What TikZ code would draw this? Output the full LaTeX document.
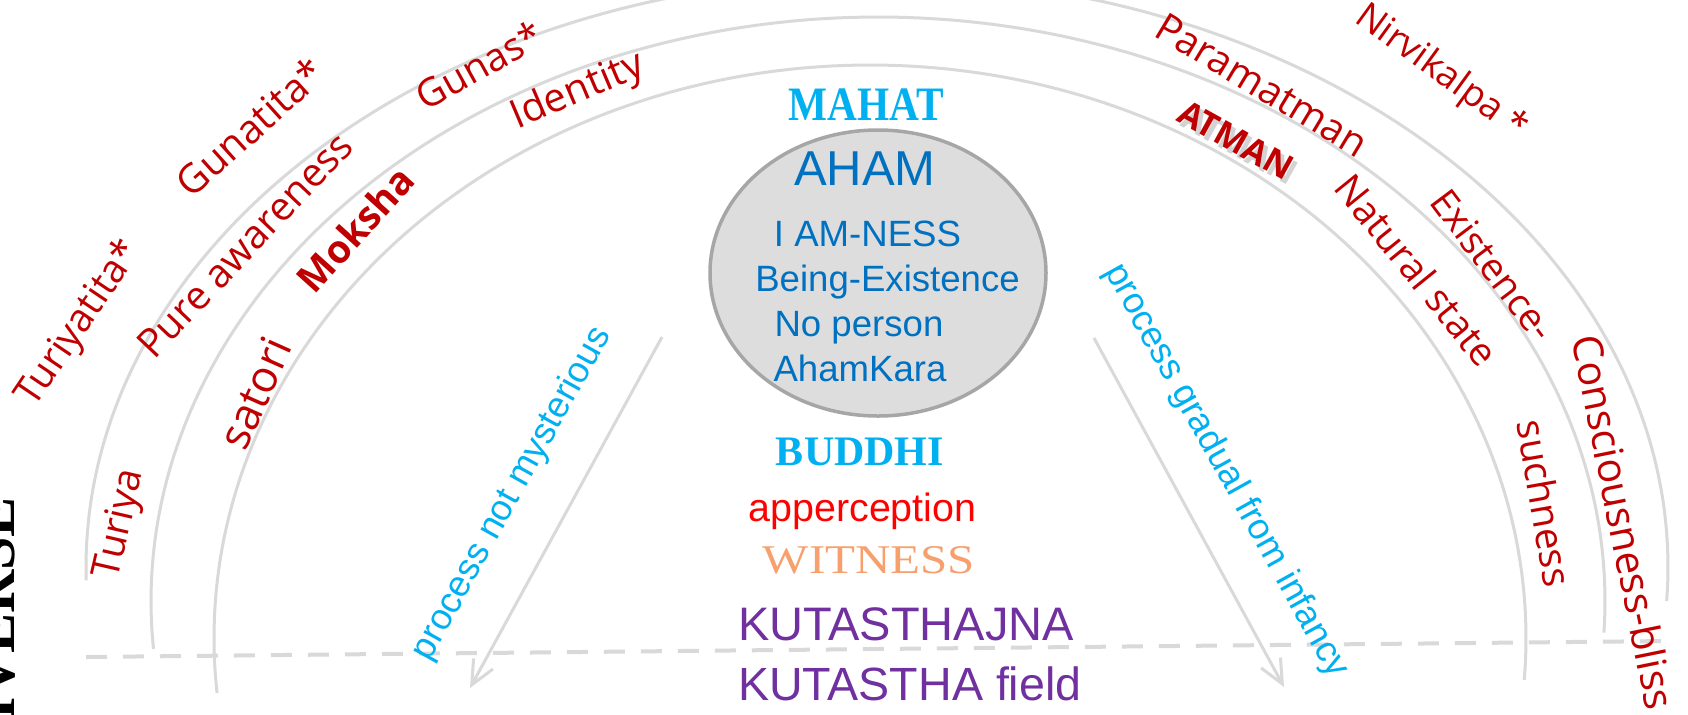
\documentclass[tikz,border=0pt]{standalone}
\usepackage{fontspec}
\usetikzlibrary{shapes.geometric,arrows.meta}
\newfontfamily\osans{Open Sans}
\newfontfamily\lsans{Liberation Sans}
\newfontfamily\lserif{Liberation Serif}
\newcommand\fsz[1]{\fontsize{#1}{#1}\selectfont}
\definecolor{dred}{HTML}{C00000}
\definecolor{cyanb}{HTML}{00B0F0}
\definecolor{blueb}{HTML}{0070C0}
\definecolor{purp}{HTML}{7030A0}
\definecolor{lgray}{HTML}{D9D9D9}
\definecolor{egray}{HTML}{A6A6A6}
\definecolor{efill}{HTML}{DDDDDD}
\definecolor{witn}{RGB}{247,160,110}
\definecolor{rred}{HTML}{FF0000}
\definecolor{shad}{HTML}{C8C8C8}
\begin{document}
\begin{tikzpicture}[x=0.5pt,y=-0.5pt,
  arcl/.style={draw=lgray, line width=1.5pt},
  lab/.style={inner sep=0pt, outer sep=0pt},
  rlab/.style={lab, text=dred},
  clab/.style={lab, text=cyanb},
  blab/.style={lab, text=blueb, anchor=base},
  arrowl/.style={draw=lgray, line width=1.5pt, -{Straight Barb[length=12pt,width=11pt,line width=1.5pt]}}
]
\useasboundingbox (0,0) rectangle (1688,714);
\fill[white] (0,0) rectangle (1688,714);

% arcs
\draw[arcl] plot[domain=178.7:363.3, samples=160, smooth] ({877+791*cos(\x)}, {567+590*sin(\x)});
\draw[arcl] plot[domain=175.3:363.1, samples=160, smooth] ({878+727*cos(\x)}, {601+584*sin(\x)});
\draw[arcl] plot[domain=174.5:364.2, samples=160, smooth] ({870+656*cos(\x)}, {638+573*sin(\x)});

% dashed base line
\coordinate (dl) at (86,657);
\coordinate (dr) at (1670,641);
\draw[draw=lgray, line width=2pt, dash pattern=on 10.5pt off 8pt] (dl) -- (dr);

% arrows
\coordinate (a1s) at (662,337);
\coordinate (a1e) at (470,688);
\coordinate (a2s) at (1094,338);
\coordinate (a2e) at (1284,687);
\draw[arrowl] (a1s) -- (a1e);
\draw[arrowl] (a2s) -- (a2e);

% central ellipse
\node[ellipse, draw=egray, fill=efill, line width=1.75pt, minimum width=168pt, minimum height=143pt, inner sep=0pt] (aham) at (878,273) {};

% left edge word
\node[lab, rotate=90, anchor=base east, font=\lserif\bfseries\fsz{30}] (univ) at (15,497) {UNIVERSE};

% red labels, left side
\node[rlab, rotate=56, font=\osans\fsz{19.5}] (turiyatita) at (80,324) {Turiyatita*};
\node[rlab, rotate=42, font=\osans\fsz{20}] (gunatita) at (250,127) {Gunatita*};
\node[rlab, rotate=46.5, font=\osans\fsz{19.8}] (pure) at (245,245) {Pure awareness};
\node[rlab, rotate=29, font=\osans\fsz{19.5}] (gunas) at (479,65) {Gunas*};
\node[rlab, rotate=23, font=\osans\fsz{20}] (identity) at (578,92) {Identity};
\node[rlab, rotate=48, font=\osans\bfseries\fsz{19.3}] (moksha) at (355,229) {Moksha};
\node[rlab, rotate=66, font=\osans\fsz{22}] (satori) at (255,393) {satori};
\node[rlab, rotate=77, font=\osans\fsz{19.5}] (turiya) at (121,524) {Turiya};

% red labels, right side
\node[rlab, rotate=-31, font=\osans\fsz{19.8}] (param) at (1262,85) {Paramatman};
\node[rlab, rotate=-36, font=\osans\fsz{18.5}] (nirv) at (1441,73) {Nirvikalpa *};
\node[lab, rotate=-29, font=\osans\bfseries\fsz{17.2}, text=shad, opacity=0.8] (atmsh) at (1240,145) {ATMAN};
\node[rlab, rotate=-29, font=\osans\bfseries\fsz{17.2}] (atman) at (1236,140) {ATMAN};
\node[rlab, rotate=-51, font=\osans\fsz{19.3}] (natural) at (1417,270) {Natural state};
\node[rlab, rotate=-53, font=\osans\fsz{19}] (exist) at (1493,265) {Existence-};
\node[rlab, rotate=-80, font=\osans\fsz{19.5}] (such) at (1545,503) {suchness};
\node[rlab, rotate=-78.5, font=\osans\fsz{20.5}] (consc) at (1624,522) {Consciousness-bliss};

% cyan process labels
\node[clab, rotate=61, font=\lsans\fsz{18.2}] (pnm) at (512,494) {process not mysterious};
\node[clab, rotate=-61, font=\lsans\fsz{18.2}] (pgi) at (1226,471) {process gradual from infancy};

% centre column
\node[lab, anchor=base, text=cyanb, font=\lserif\bfseries\fsz{24}] (mahat) at (866,120) {\scalebox{0.86}[1]{MAHAT}};
\node[blab, font=\lsans\fsz{24.5}] (ahamt) at (865,185) {AHAM};
\node[blab, font=\lsans\fsz{18.3}] (iam) at (867.5,246.7) {I AM-NESS};
\node[blab, font=\lsans\fsz{18.3}] (being) at (887.5,291.7) {Being-Existence};
\node[blab, font=\lsans\fsz{18.3}] (noperson) at (859,336.7) {No person};
\node[blab, font=\lsans\fsz{18.3}] (ahamkara) at (860,381.7) {AhamKara};
\node[lab, anchor=base, text=cyanb, font=\lserif\bfseries\fsz{21}] (buddhi) at (860,465) {BUDDHI};
\node[lab, anchor=base, text=rred, font=\lsans\fsz{19.7}] (apperc) at (862.5,521.7) {apperception};
\node[lab, anchor=base, text=witn, font=\lserif\fsz{20.4}] (witness) at (869,573.3) {\scalebox{1.2}[1]{WITNESS}};
\node[lab, anchor=base west, text=purp, font=\lsans\fsz{23.5}] (kjna) at (738,640) {KUTASTHAJNA};
\node[lab, anchor=base west, text=purp, font=\lsans\fsz{23.3}] (kfield) at (738,700) {KUTASTHA field};
\end{tikzpicture}
\end{document}
